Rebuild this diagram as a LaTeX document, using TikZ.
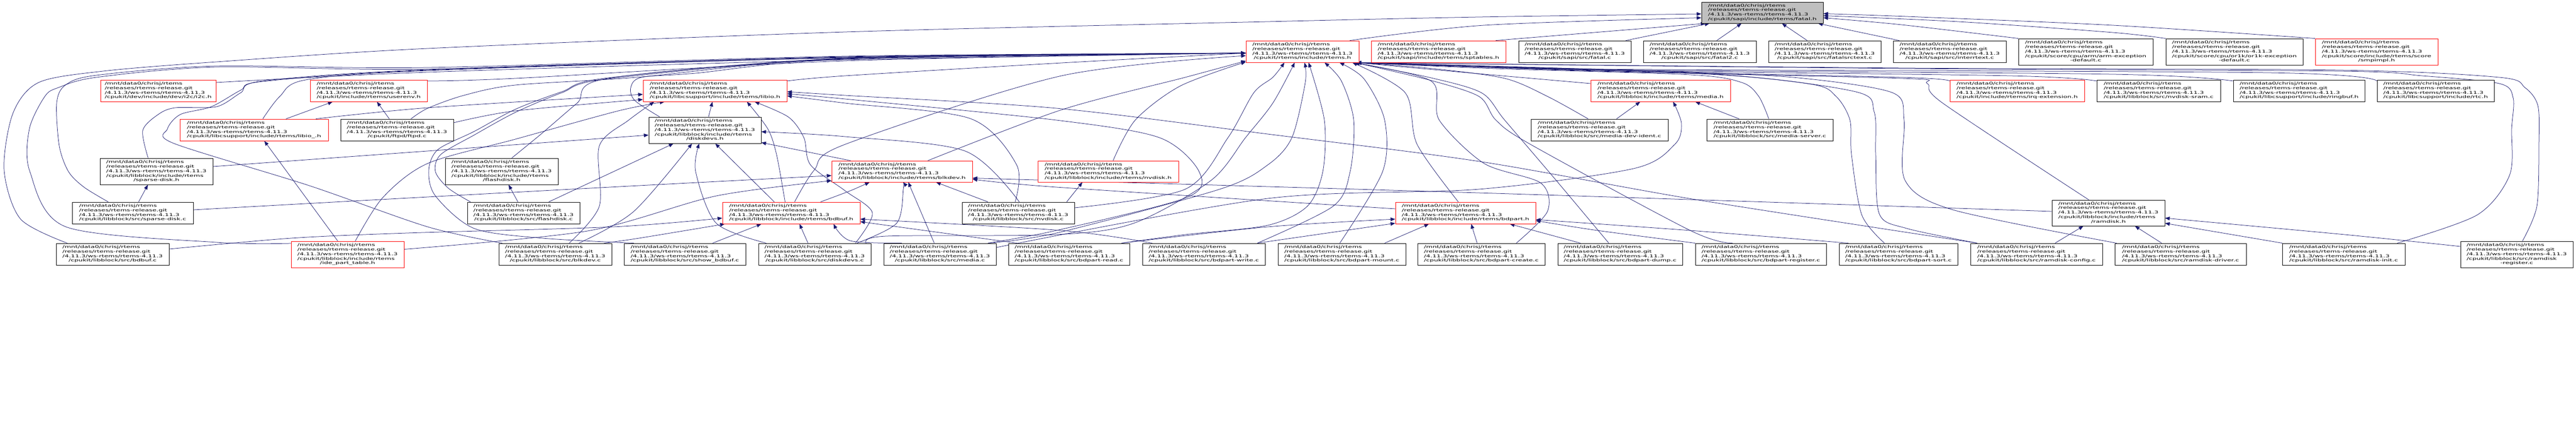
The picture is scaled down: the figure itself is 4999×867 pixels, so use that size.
\documentclass[tikz,border=0pt]{standalone}
\usepackage{fontspec}
\setmainfont{DejaVu Sans}
\usepackage{graphicx}
\usetikzlibrary{arrows.meta}
\definecolor{edgec}{HTML}{191970}
\definecolor{nodegray}{HTML}{BFBFBF}
\pgfdeclarelayer{bg}
\pgfsetlayers{bg,main}
\newcommand{\pre}{/mnt/data0/chrisj/rtems\\/releases/rtems-release.git\\/4.11.3/ws-rtems/rtems-4.11.3}
\newcommand{\lbl}[2]{\scalebox{1.7}[1]{\begin{tabular}{@{}l@{}}\pre\\#1\multicolumn{1}{@{}c@{}}{#2}\end{tabular}}}
\newcommand{\nd}[7]{\node[#6, minimum width={#4pt-#2pt}, minimum height={#5pt-#3pt}] (#1) at ({(#2+#4)/2},{(#3+#5)/2}) {#7};}
\tikzset{
  box/.style={draw, rectangle, inner sep=0pt, fill=white, line width=0.9pt, font=\fontsize{7.5}{8.8}\selectfont},
  bbox/.style={box, draw=black},
  rbox/.style={box, draw=red},
  gbox/.style={box, draw=black, fill=nodegray},
  edge/.style={draw=edgec, line width=0.75pt, -{Triangle[length=9pt,width=7pt]}},
}
\newcommand{\ed}[1]{\draw[edge] plot[smooth,tension=0.5] coordinates {#1};}
\begin{document}
\begin{tikzpicture}[x=1pt,y=-1pt]
\useasboundingbox (0,0) rectangle (4999,867);
\begin{pgfonlayer}{bg}
\fill[white] (0,0) rectangle (4999,867);
\end{pgfonlayer}
% row 1-2
\nd{fatal}{3302}{4}{3538}{45}{gbox}{\lbl{}{/cpukit/sapi/include/rtems/fatal.h}}
\nd{rtemsh}{2418}{79}{2637}{121}{rbox}{\lbl{}{/cpukit/rtems/include/rtems.h}}
\nd{sptables}{2661}{79}{2922}{121}{rbox}{\lbl{}{/cpukit/sapi/include/rtems/sptables.h}}
\nd{fatalc}{2947}{79}{3165}{121}{bbox}{\lbl{}{/cpukit/sapi/src/fatal.c}}
\nd{fatal2}{3189}{79}{3408}{121}{bbox}{\lbl{}{/cpukit/sapi/src/fatal2.c}}
\nd{fatalsrc}{3432}{79}{3650}{121}{bbox}{\lbl{}{/cpukit/sapi/src/fatalsrctext.c}}
\nd{interr}{3674}{79}{3893}{121}{bbox}{\lbl{}{/cpukit/sapi/src/interrtext.c}}
\nd{armexc}{3917}{75}{4178}{126}{bbox}{\lbl{/cpukit/score/cpu/arm/arm-exception\\}{-default.c}}
\nd{or1kexc}{4203}{75}{4469}{126}{bbox}{\lbl{/cpukit/score/cpu/or1k/or1k-exception\\}{-default.c}}
\nd{smpimpl}{4493}{75}{4731}{126}{rbox}{\lbl{/cpukit/score/include/rtems/score\\}{/smpimpl.h}}
% row 3
\nd{i2c}{195}{155}{419}{197}{rbox}{\lbl{}{/cpukit/dev/include/dev/i2c/i2c.h}}
\nd{userenv}{602}{155}{829}{197}{rbox}{\lbl{}{/cpukit/include/rtems/userenv.h}}
\nd{libio}{1248}{155}{1527}{197}{rbox}{\lbl{}{/cpukit/libcsupport/include/rtems/libio.h}}
\nd{media}{3087}{155}{3358}{197}{rbox}{\lbl{}{/cpukit/libblock/include/rtems/media.h}}
\nd{irqext}{3784}{155}{4045}{197}{rbox}{\lbl{}{/cpukit/include/rtems/irq-extension.h}}
\nd{nvsram}{4069}{155}{4309}{197}{bbox}{\lbl{}{/cpukit/libblock/src/nvdisk-sram.c}}
\nd{ringbuf}{4334}{155}{4589}{197}{bbox}{\lbl{}{/cpukit/libcsupport/include/ringbuf.h}}
\nd{rtc}{4613}{155}{4840}{197}{bbox}{\lbl{}{/cpukit/libcsupport/include/rtc.h}}
% row 4
\nd{libiou}{349}{231}{637}{273}{rbox}{\lbl{}{/cpukit/libcsupport/include/rtems/libio\_.h}}
\nd{ftpd}{661}{231}{880}{273}{bbox}{\lbl{}{/cpukit/ftpd/ftpd.c}}
\nd{diskdevsh}{1259}{227}{1477}{278}{bbox}{\lbl{/cpukit/libblock/include/rtems\\}{/diskdevs.h}}
\nd{mediadev}{2971}{231}{3237}{273}{bbox}{\lbl{}{/cpukit/libblock/src/media-dev-ident.c}}
\nd{mediaserv}{3312}{231}{3557}{273}{bbox}{\lbl{}{/cpukit/libblock/src/media-server.c}}
% row 5
\nd{sparseh}{194}{307}{413}{358}{bbox}{\lbl{/cpukit/libblock/include/rtems\\}{/sparse-disk.h}}
\nd{flashh}{864}{307}{1083}{358}{bbox}{\lbl{/cpukit/libblock/include/rtems\\}{/flashdisk.h}}
\nd{blkdevh}{1614}{312}{1887}{353}{rbox}{\lbl{}{/cpukit/libblock/include/rtems/blkdev.h}}
\nd{nvdiskh}{2014}{312}{2287}{353}{rbox}{\lbl{}{/cpukit/libblock/include/rtems/nvdisk.h}}
% row 6
\nd{sparsec}{140}{392}{375}{434}{bbox}{\lbl{}{/cpukit/libblock/src/sparse-disk.c}}
\nd{flashc}{907}{392}{1125}{434}{bbox}{\lbl{}{/cpukit/libblock/src/flashdisk.c}}
\nd{bdbufh}{1402}{392}{1669}{434}{rbox}{\lbl{}{/cpukit/libblock/include/rtems/bdbuf.h}}
\nd{nvdiskc}{1867}{392}{2085}{434}{bbox}{\lbl{}{/cpukit/libblock/src/nvdisk.c}}
\nd{bdparth}{2708}{392}{2980}{434}{rbox}{\lbl{}{/cpukit/libblock/include/rtems/bdpart.h}}
\nd{ramdiskh}{3982}{388}{4201}{438}{bbox}{\lbl{/cpukit/libblock/include/rtems\\}{/ramdisk.h}}
% row 7
\nd{bdbufc}{109}{472}{328}{514}{bbox}{\lbl{}{/cpukit/libblock/src/bdbuf.c}}
\nd{idepart}{565}{468}{784}{519}{rbox}{\lbl{/cpukit/libblock/include/rtems\\}{/ide\_part\_table.h}}
\nd{blkdevc}{968}{472}{1187}{514}{bbox}{\lbl{}{/cpukit/libblock/src/blkdev.c}}
\nd{showbd}{1211}{472}{1447}{514}{bbox}{\lbl{}{/cpukit/libblock/src/show\_bdbuf.c}}
\nd{diskdevsc}{1472}{472}{1690}{514}{bbox}{\lbl{}{/cpukit/libblock/src/diskdevs.c}}
\nd{mediac}{1715}{472}{1933}{514}{bbox}{\lbl{}{/cpukit/libblock/src/media.c}}
\nd{bpread}{1957}{472}{2192}{514}{bbox}{\lbl{}{/cpukit/libblock/src/bdpart-read.c}}
\nd{bpwrite}{2217}{472}{2455}{514}{bbox}{\lbl{}{/cpukit/libblock/src/bdpart-write.c}}
\nd{bpmount}{2480}{472}{2728}{514}{bbox}{\lbl{}{/cpukit/libblock/src/bdpart-mount.c}}
\nd{bpcreate}{2751}{472}{2998}{514}{bbox}{\lbl{}{/cpukit/libblock/src/bdpart-create.c}}
\nd{bpdump}{3023}{472}{3265}{514}{bbox}{\lbl{}{/cpukit/libblock/src/bdpart-dump.c}}
\nd{bpreg}{3290}{472}{3544}{514}{bbox}{\lbl{}{/cpukit/libblock/src/bdpart-register.c}}
\nd{bpsort}{3569}{472}{3799}{514}{bbox}{\lbl{}{/cpukit/libblock/src/bdpart-sort.c}}
\nd{rdconfig}{3824}{472}{4080}{514}{bbox}{\lbl{}{/cpukit/libblock/src/ramdisk-config.c}}
\nd{rddriver}{4104}{472}{4359}{514}{bbox}{\lbl{}{/cpukit/libblock/src/ramdisk-driver.c}}
\nd{rdinit}{4429}{472}{4667}{514}{bbox}{\lbl{}{/cpukit/libblock/src/ramdisk-init.c}}
\nd{rdreg}{4775}{468}{4993}{519}{bbox}{\lbl{/cpukit/libblock/src/ramdisk\\}{-register.c}}

\begin{pgfonlayer}{bg}
% ---- into fatal.h
\ed{([xshift=92pt]rtemsh.north) (2880,49) ([yshift=-10pt]fatal.west)}
\draw[edge] ([xshift=111pt]sptables.north) -- ([xshift=8pt]fatal.south west);
\draw[edge] ([xshift=99pt]fatalc.north) -- ([xshift=16pt]fatal.south west);
\draw[edge] ([xshift=33pt]fatal2.north) -- ([xshift=78pt]fatal.south west);
\draw[edge] ([xshift=-34pt]fatalsrc.north) -- ([xshift=38pt]fatal.south);
\draw[edge] ([xshift=-98pt]interr.north) -- ([xshift=108pt]fatal.south);
\ed{(armexc.north west) (3690,48) ([yshift=-10pt]fatal.east)}
\ed{(or1kexc.north west) (4100,63) (3800,42) ([yshift=-6pt]fatal.east)}
\ed{(smpimpl.north west) (4100,49) (3700,32) ([yshift=-2pt]fatal.east)}
\ed{([xshift=-88pt]bdbufc.north) (40,425) (8,330) (25,220) (75,160) (200,138) (420,120) (830,94) (1640,62) (2460,42) (2870,33) ([yshift=-2.5pt]fatal.west)}
% ---- into rtems.h, right bundle
\ed{([yshift=14pt]media.west) (2870,143) ([xshift=105pt]rtemsh.south)}
\ed{([xshift=-22pt]mediadev.north) (3003,187) (2920,152) (2780,133) ([xshift=105pt]rtemsh.south)}
\ed{([xshift=-2pt]mediaserv.north) (3413,187) (3380,160) (3280,145) (2900,133) ([xshift=105pt]rtemsh.south)}
\ed{([yshift=19pt]irqext.west) (3690,150) (3100,137) ([xshift=105pt]rtemsh.south)}
\ed{([yshift=19pt]nvsram.west) (3900,147) (3100,136) ([xshift=105pt]rtemsh.south)}
\ed{([yshift=19pt]ringbuf.west) (4100,144) (3100,135) ([xshift=105pt]rtemsh.south)}
\ed{([yshift=19pt]rtc.west) (4400,141) (3100,134) ([xshift=105pt]rtemsh.south)}
\ed{([xshift=-38pt]ramdiskh.north) (3770,200) (3740,162) (3690,152) (3100,138) ([xshift=105pt]rtemsh.south)}
\ed{([xshift=104pt]rdinit.north) (4807,417) (4870,340) (4874,250) (4877,190) (4850,162) (4700,147) (4540,138) (3700,133) ([xshift=105pt]rtemsh.south)}
\ed{([xshift=11pt]rdreg.north) (4923,400) (4927,280) (4925,205) (4900,170) (4850,150) (4540,136) (3700,132) ([xshift=105pt]rtemsh.south)}
\ed{([xshift=-27pt]bpsort.north) (3613,417) (3593,300) (3590,233) (3563,187) (3513,163) (3280,142) ([xshift=105pt]rtemsh.south)}
\ed{([xshift=-124pt]rddriver.north) (3790,407) (3697,350) (3695,233) (3673,180) (3500,152) (3280,140) ([xshift=105pt]rtemsh.south)}
\ed{([xshift=-115pt]rdconfig.north) (3700,443) (3647,415) (3640,300) (3637,217) (3597,177) (3300,142) ([xshift=105pt]rtemsh.south)}
\ed{([xshift=-22pt]bpdump.north) (3020,350) (2920,233) (2875,180) (2773,150) ([xshift=100pt]rtemsh.south)}
\ed{([xshift=68pt]bpcreate.north) (3003,410) (2990,355) (2880,317) (2793,233) (2777,157) ([xshift=98pt]rtemsh.south)}
\ed{([xshift=-55pt]bpreg.north) (3280,447) (2970,280) (2903,233) (2870,187) (2773,155) ([xshift=102pt]rtemsh.south)}
\ed{([xshift=-14pt]bdparth.north) (2750,280) (2727,180) ([xshift=97pt]rtemsh.south)}
\ed{([xshift=-4pt]bpmount.north) (2683,333) (2687,233) (2647,153) ([xshift=72pt]rtemsh.south)}
\ed{([xshift=104pt]bpwrite.north) (2587,400) (2620,333) (2627,233) (2603,157) ([xshift=43pt]rtemsh.south)}
\ed{([xshift=102pt]bpread.north) (2300,455) (2460,437) (2537,400) (2567,333) (2570,233) ([xshift=12pt]rtemsh.south)}
\ed{([xshift=93pt]mediac.north) (2050,452) (2367,367) (2460,320) (2507,267) (2533,160) ([xshift=4pt]rtemsh.south)}
\ed{([xshift=100pt]diskdevsc.north) (1720,458) (2050,455) (2200,433) (2350,350) (2417,267) (2470,200) ([xshift=-15pt]rtemsh.south)}
\ed{([yshift=10pt]nvdiskc.east) (2300,367) (2383,267) (2433,180) (2470,150) ([xshift=-35pt]rtemsh.south)}
% ---- into rtems.h, left side
\ed{([xshift=9.5pt]nvdiskh.north) (2203,233) (2290,167) ([yshift=-20pt]rtemsh.west)}
\ed{([xshift=50pt]blkdevh.north) (2060,213) (2300,150) ([yshift=-18pt]rtemsh.west)}
\ed{([xshift=6.5pt]bdbufh.north) (1580,330) (1640,280) (2060,147) ([yshift=-8pt]rtemsh.west)}
\ed{([yshift=16pt]i2c.east) (830,140) (1640,116) ([yshift=-3pt]rtemsh.west)}
\ed{([yshift=19pt]userenv.east) (1000,152) (1640,118) ([yshift=-3pt]rtemsh.west)}
\ed{([yshift=19pt]libio.east) (1640,147) (2060,122) ([yshift=-3pt]rtemsh.west)}
\ed{([xshift=17pt]libiou.north) (543,187) (593,155) (830,137) (1640,112) ([yshift=-3pt]rtemsh.west)}
\ed{([xshift=-16pt]sparseh.north) (277,253) (307,222) (340,209) (420,207) (467,180) (510,157) (830,135) (1640,111) ([yshift=-3pt]rtemsh.west)}
\ed{([yshift=21.5pt]idepart.west) (420,470) (128,440) (58,333) (57,250) (87,187) (113,170) (187,150) (420,130) (830,134) (1640,110) ([yshift=-3pt]rtemsh.west)}
\ed{([xshift=-47.5pt]sparsec.north) (163,363) (133,333) (115,283) (110,200) (127,165) (187,146) (420,128) (830,131) (1640,109) ([yshift=-3pt]rtemsh.west)}
\ed{([xshift=27pt]ftpd.north) (830,210) (900,185) (1000,165) (1235,150) (1640,113) ([yshift=-3pt]rtemsh.west)}
\ed{([xshift=19.5pt]flashh.north) (1050,260) (1120,200) (1180,152) (1640,114) ([yshift=-3pt]rtemsh.west)}
\ed{([xshift=-88pt]diskdevsh.north) (1232,195) (1224,170) (1245,150) (1350,142) (1640,115) ([yshift=-3pt]rtemsh.west)}
\ed{([xshift=-103pt]flashc.north) (870,365) (845,333) (855,300) (920,262) (1000,218) (1090,180) (1180,153) (1640,114) ([yshift=-3pt]rtemsh.west)}
\ed{([xshift=-99pt]showbd.north) (1053,462) (920,443) (845,380) (832,330) (850,290) (920,255) (1000,212) (1090,178) (1180,151) (1640,113) ([yshift=-3pt]rtemsh.west)}
\ed{([xshift=-103pt]blkdevc.north) (830,440) (600,360) (337,278) (325,250) (350,222) (410,207) (467,175) (510,158) (830,136) (1640,112) ([yshift=-3pt]rtemsh.west)}
% ---- userenv, libio_
\draw[edge] ([xshift=62pt]libiou.north) -- ([xshift=-70pt]userenv.south);
\draw[edge] ([xshift=-15pt]ftpd.north) -- ([xshift=16pt]userenv.south);
\draw[edge] ([xshift=-19pt]idepart.north) -- ([xshift=20pt]libiou.south);
% ---- libio.h
\ed{([xshift=120pt]libiou.north) (830,209) ([yshift=-7pt]libio.west)}
\ed{([yshift=14pt]ftpd.east) (1000,215) ([yshift=-17pt]libio.west)}
\draw[edge] ([xshift=7pt]diskdevsh.north) -- ([xshift=-5pt]libio.south);
\ed{([xshift=-12pt]bdbufh.north) (1507,300) (1490,250) ([xshift=62pt]libio.south)}
\ed{([xshift=79pt]diskdevsc.north) (1693,413) (1640,370) (1573,320) (1560,267) (1530,227) ([xshift=77pt]libio.south)}
\ed{([xshift=-6pt]nvdiskc.north) (1973,320) (1883,230) (1640,200) ([yshift=-10pt]libio.east)}
\ed{([xshift=93pt]mediac.north) (2050,447) (2303,383) (2327,333) (2250,267) (2050,233) (1640,192) ([yshift=-6pt]libio.east)}
\ed{([xshift=-115pt]rdconfig.north) (3290,387) (2870,313) (2460,260) (2050,210) (1640,185) ([yshift=-2pt]libio.east)}
\ed{([xshift=27pt]blkdevc.north) (1163,400) (1163,283) (1220,233) ([xshift=-118pt]libio.south)}
\ed{([xshift=15pt]idepart.north) (743,383) (830,317) (1000,270) (1200,215) ([xshift=-98pt]libio.south)}
% ---- diskdevs.h
\draw[edge] ([yshift=9.5pt]sparseh.east) -- ([yshift=-9.5pt]diskdevsh.west);
\ed{([xshift=2pt]nvdiskc.north) (1873,293) (1640,265) ([yshift=-3pt]diskdevsh.east)}
\draw[edge] ([xshift=-100pt]blkdevh.north) -- ([yshift=-24pt]diskdevsh.east);
\draw[edge] ([xshift=49pt]flashc.north) -- ([xshift=-61pt]diskdevsh.south);
\ed{([xshift=46pt]blkdevc.north) (1230,410) ([xshift=-25pt]diskdevsh.south)}
\ed{([xshift=-94pt]diskdevsc.north) (1390,433) (1350,333) ([xshift=-11pt]diskdevsh.south)}
\draw[edge] ([xshift=-33pt]bdbufh.north) -- ([xshift=20pt]diskdevsh.south);
% ---- blkdev.h
\ed{([yshift=6pt]sparsec.east) (830,382) (1240,360) ([yshift=-8pt]blkdevh.west)}
\ed{([yshift=10pt]idepart.east) (1140,448) (1390,380) ([yshift=-18pt]blkdevh.west)}
\ed{([xshift=57pt]bdbufh.north) (1650,370) ([xshift=-63pt]blkdevh.south)}
\ed{([xshift=82pt]diskdevsc.north) (1740,433) (1753,367) ([xshift=2pt]blkdevh.south)}
\draw[edge] ([xshift=-11pt]mediac.north) -- ([xshift=12pt]blkdevh.south);
\draw[edge] ([xshift=-59pt]nvdiskc.north) -- ([xshift=66pt]blkdevh.south);
\ed{([yshift=8pt]bdparth.west) (2050,363) ([yshift=-15pt]blkdevh.east)}
\ed{([yshift=3pt]ramdiskh.west) (2900,375) ([yshift=-13pt]blkdevh.east)}
% ---- bdbuf.h
\ed{([yshift=10pt]bdbufc.east) (565,462) (790,452) (1190,440) ([yshift=-10pt]bdbufh.west)}
\ed{([xshift=95pt]blkdevc.north) (1240,462) ([xshift=5pt]bdbufh.south west)}
\draw[edge] ([xshift=54pt]showbd.north) -- ([xshift=-58pt]bdbufh.south);
\draw[edge] ([xshift=-13pt]diskdevsc.north) -- ([xshift=16pt]bdbufh.south);
\ed{([xshift=-74pt]mediac.north) (1650,467) ([xshift=82pt]bdbufh.south)}
\draw[edge] ([xshift=-101pt]bpread.north) -- ([yshift=-17pt]bdbufh.east);
\ed{([xshift=-100pt]bpwrite.north) (2060,447) ([yshift=-12pt]bdbufh.east)}
% ---- nvdisk.h, flashdisk.h, sparse-disk.h
\draw[edge] ([xshift=94pt]nvdiskc.north) -- ([xshift=-50pt]nvdiskh.south);
\draw[edge] ([xshift=-11pt]flashc.north) -- ([xshift=13.5pt]flashh.south);
\draw[edge] ([xshift=11.5pt]sparsec.north) -- ([xshift=-16.5pt]sparseh.south);
% ---- media.h
\draw[edge] ([xshift=33pt]mediadev.north) -- ([xshift=-39.5pt]media.south);
\draw[edge] ([xshift=-59.5pt]mediaserv.north) -- ([xshift=67.5pt]media.south);
\ed{([yshift=13pt]mediac.east) (2460,385) (2870,367) (3170,327) (3250,280) (3263,240) ([xshift=24.5pt]media.south)}
% ---- bdpart.h
\draw[edge] ([xshift=83pt]bpmount.north) -- ([xshift=-71pt]bdparth.south);
\draw[edge] ([xshift=-8pt]bpcreate.north) -- ([xshift=11pt]bdparth.south);
\draw[edge] ([xshift=-77pt]bpdump.north) -- ([xshift=86pt]bdparth.south);
\ed{(bpreg.north west) (3100,447) ([yshift=-15pt]bdparth.east)}
\ed{([xshift=-97pt]bpsort.north) (3280,447) ([yshift=-13pt]bdparth.east)}
\ed{([xshift=102pt]bpread.north) (2460,440) ([yshift=-12pt]bdparth.west)}
\draw[edge] ([xshift=104pt]bpwrite.north) -- ([yshift=-20pt]bdparth.west);
% ---- ramdisk.h
\draw[edge] ([xshift=36pt]rdconfig.north) -- ([xshift=-48.5pt]ramdiskh.south);
\draw[edge] ([xshift=-36.5pt]rddriver.north) -- ([xshift=51.5pt]ramdiskh.south);
\draw[edge] ([xshift=-119pt]rdinit.north) -- ([yshift=-20pt]ramdiskh.east);
\ed{([yshift=15.5pt]rdreg.west) (4550,455) ([yshift=-10pt]ramdiskh.east)}
\end{pgfonlayer}
\end{tikzpicture}
\end{document}
